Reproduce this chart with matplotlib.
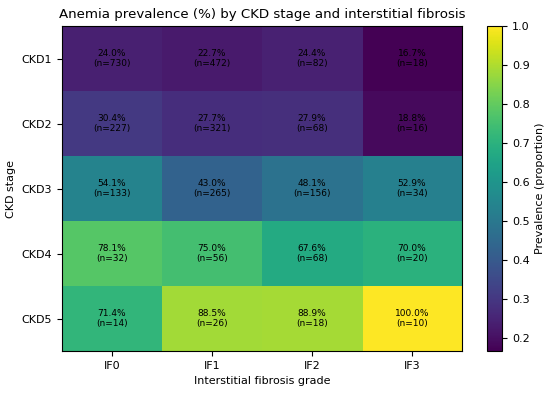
import matplotlib
matplotlib.use('Agg')
import matplotlib.pyplot as plt
import numpy as np

stages = ['CKD1', 'CKD2', 'CKD3', 'CKD4', 'CKD5']
grades = ['IF0', 'IF1', 'IF2', 'IF3']

prevalence = np.array([
    [24.0, 22.7, 24.4, 16.7],
    [30.4, 27.7, 27.9, 18.8],
    [54.1, 43.0, 48.1, 52.9],
    [78.1, 75.0, 67.6, 70.0],
    [71.4, 88.5, 88.9, 100.0],
])
counts = np.array([
    [730, 472, 82, 18],
    [227, 321, 68, 16],
    [133, 265, 156, 34],
    [32, 56, 68, 20],
    [14, 26, 18, 10],
])

prop = prevalence / 100.0

fig = plt.figure(figsize=(5.5, 3.96), dpi=100)
ax = fig.add_axes([0.1127, 0.1136, 0.7273, 0.8207])
cax = fig.add_axes([0.8855, 0.1136, 0.0273, 0.8207])

im = ax.imshow(prop, cmap='viridis', aspect='auto',
               vmin=prop.min(), vmax=1.0)

for i in range(len(stages)):
    for j in range(len(grades)):
        ax.text(j, i, f'{prevalence[i, j]:.1f}%\n(n={counts[i, j]})',
                ha='center', va='center', fontsize=6.5, color='black',
                linespacing=1.05)

ax.set_xticks(range(len(grades)))
ax.set_xticklabels(grades)
ax.set_yticks(range(len(stages)))
ax.set_yticklabels(stages)
ax.tick_params(labelsize=8)
ax.set_xlabel('Interstitial fibrosis grade', fontsize=8, labelpad=3.5)
ax.set_ylabel('CKD stage', fontsize=8)
ax.set_title('Anemia prevalence (%) by CKD stage and interstitial fibrosis',
             fontsize=9.6)

cb = fig.colorbar(im, cax=cax)
cb.set_label('Prevalence (proportion)', fontsize=8)
cb.ax.tick_params(labelsize=8)

fig.savefig('out.png', dpi=100)
